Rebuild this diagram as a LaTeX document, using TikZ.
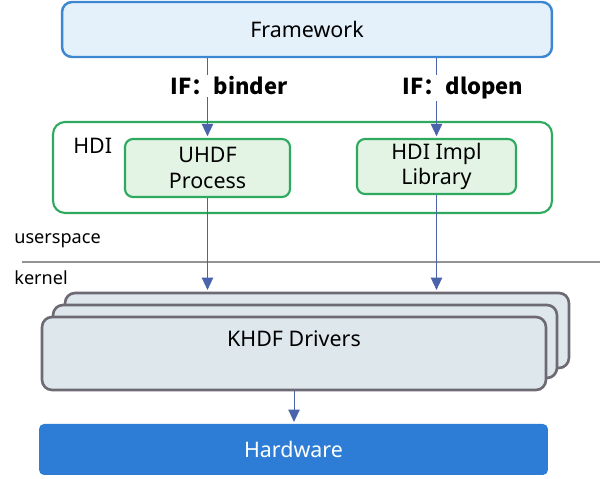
\documentclass[tikz,border=0pt]{standalone}
\usepackage{fontspec}
\setmainfont{Noto Sans}
\newfontfamily\cjk{Noto Sans CJK SC}
\usetikzlibrary{arrows.meta}

\definecolor{fwline}{HTML}{3D86D2}
\definecolor{fwfill}{HTML}{E4F0FA}
\definecolor{hdigreen}{HTML}{2DAA5E}
\definecolor{hdifill}{HTML}{E3F4E4}
\definecolor{drvline}{HTML}{6E6A74}
\definecolor{drvfill}{HTML}{DEE7EC}
\definecolor{hwfill}{HTML}{2D7DD6}
\definecolor{flowblue}{HTML}{4A63AB}

\tikzset{
  txt/.style={font=\fontsize{12.2}{14.5}\selectfont},
  fwbox/.style={txt, draw=fwline, fill=fwfill, line width=1.4pt, rounded corners=0.2cm},
  hdibox/.style={draw=hdigreen, fill=white, line width=1.2pt, rounded corners=0.24cm},
  modbox/.style={txt, draw=hdigreen, fill=hdifill, line width=1.2pt, rounded corners=0.16cm, align=center, inner sep=0pt},
  drvbox/.style={txt, draw=drvline, fill=drvfill, line width=1.5pt, rounded corners=0.2cm},
  hwbox/.style={txt, fill=hwfill, text=white, rounded corners=0.1cm},
  iflabel/.style={font=\cjk\bfseries\fontsize{12.5}{14}\selectfont, fill=white, inner sep=1pt},
  spacelabel/.style={font=\fontsize{10.3}{12}\selectfont, anchor=west, inner sep=0pt},
  flow/.style={draw=flowblue, line width=0.5pt, -{Triangle[length=7pt, width=6.5pt]}, shorten >=1pt},
}

\begin{document}
\begin{tikzpicture}[x=0.02cm, y=-0.02cm]
\useasboundingbox (0,0) rectangle (600,479);

% userspace side
\node[fwbox, minimum width=9.8cm, minimum height=1.1cm] (fw) at (307,29.5) {Framework};
\node[hdibox, minimum width=9.98cm, minimum height=1.82cm] (hdi) at (302.5,167.5) {};
\node[txt, anchor=west, inner sep=0pt] (hdilbl) at (73,146) {HDI};
\node[modbox, minimum width=3.3cm, minimum height=1.16cm] (uhdf) at (207.5,168) {UHDF\\Process};
\node[modbox, minimum width=3.18cm, minimum height=1.1cm] (impl) at (436.5,166.5) {HDI Impl\\Library};

% kernel side
\node[drvbox, minimum width=10.08cm, minimum height=1.5cm] (drv3) at (317,330.5) {};
\node[drvbox, minimum width=10.08cm, minimum height=1.46cm] (drv2) at (305,341.5) {};
\node[drvbox, minimum width=10.08cm, minimum height=1.46cm, text height=0.3cm, text depth=0.56cm] (drv1) at (294,353.5) {KHDF Drivers};
\node[hwbox, minimum width=10.18cm, minimum height=1.02cm] (hw) at (293.5,449.5) {Hardware};

\node[spacelabel] (us) at (14,241) {userspace};
\node[spacelabel] (kn) at (14,278) {kernel};
\draw[draw=gray!85, line width=0.7pt] (22,262) -- (600,262);

% interfaces
\draw[flow] (fw.south -| uhdf.north) -- (uhdf.north);
\draw[flow] (fw.south -| impl.north) -- (impl.north);
\node[iflabel] (ifb) at (229,86) {IF：binder};
\node[iflabel] (ifd) at (463,88) {IF：dlopen};

\draw[flow] (uhdf.south) -- (uhdf.south |- drv3.north);
\draw[flow] (impl.south) -- (impl.south |- drv3.north);
\draw[flow] (drv1.south) -- (drv1.south |- hw.north);
\end{tikzpicture}
\end{document}
